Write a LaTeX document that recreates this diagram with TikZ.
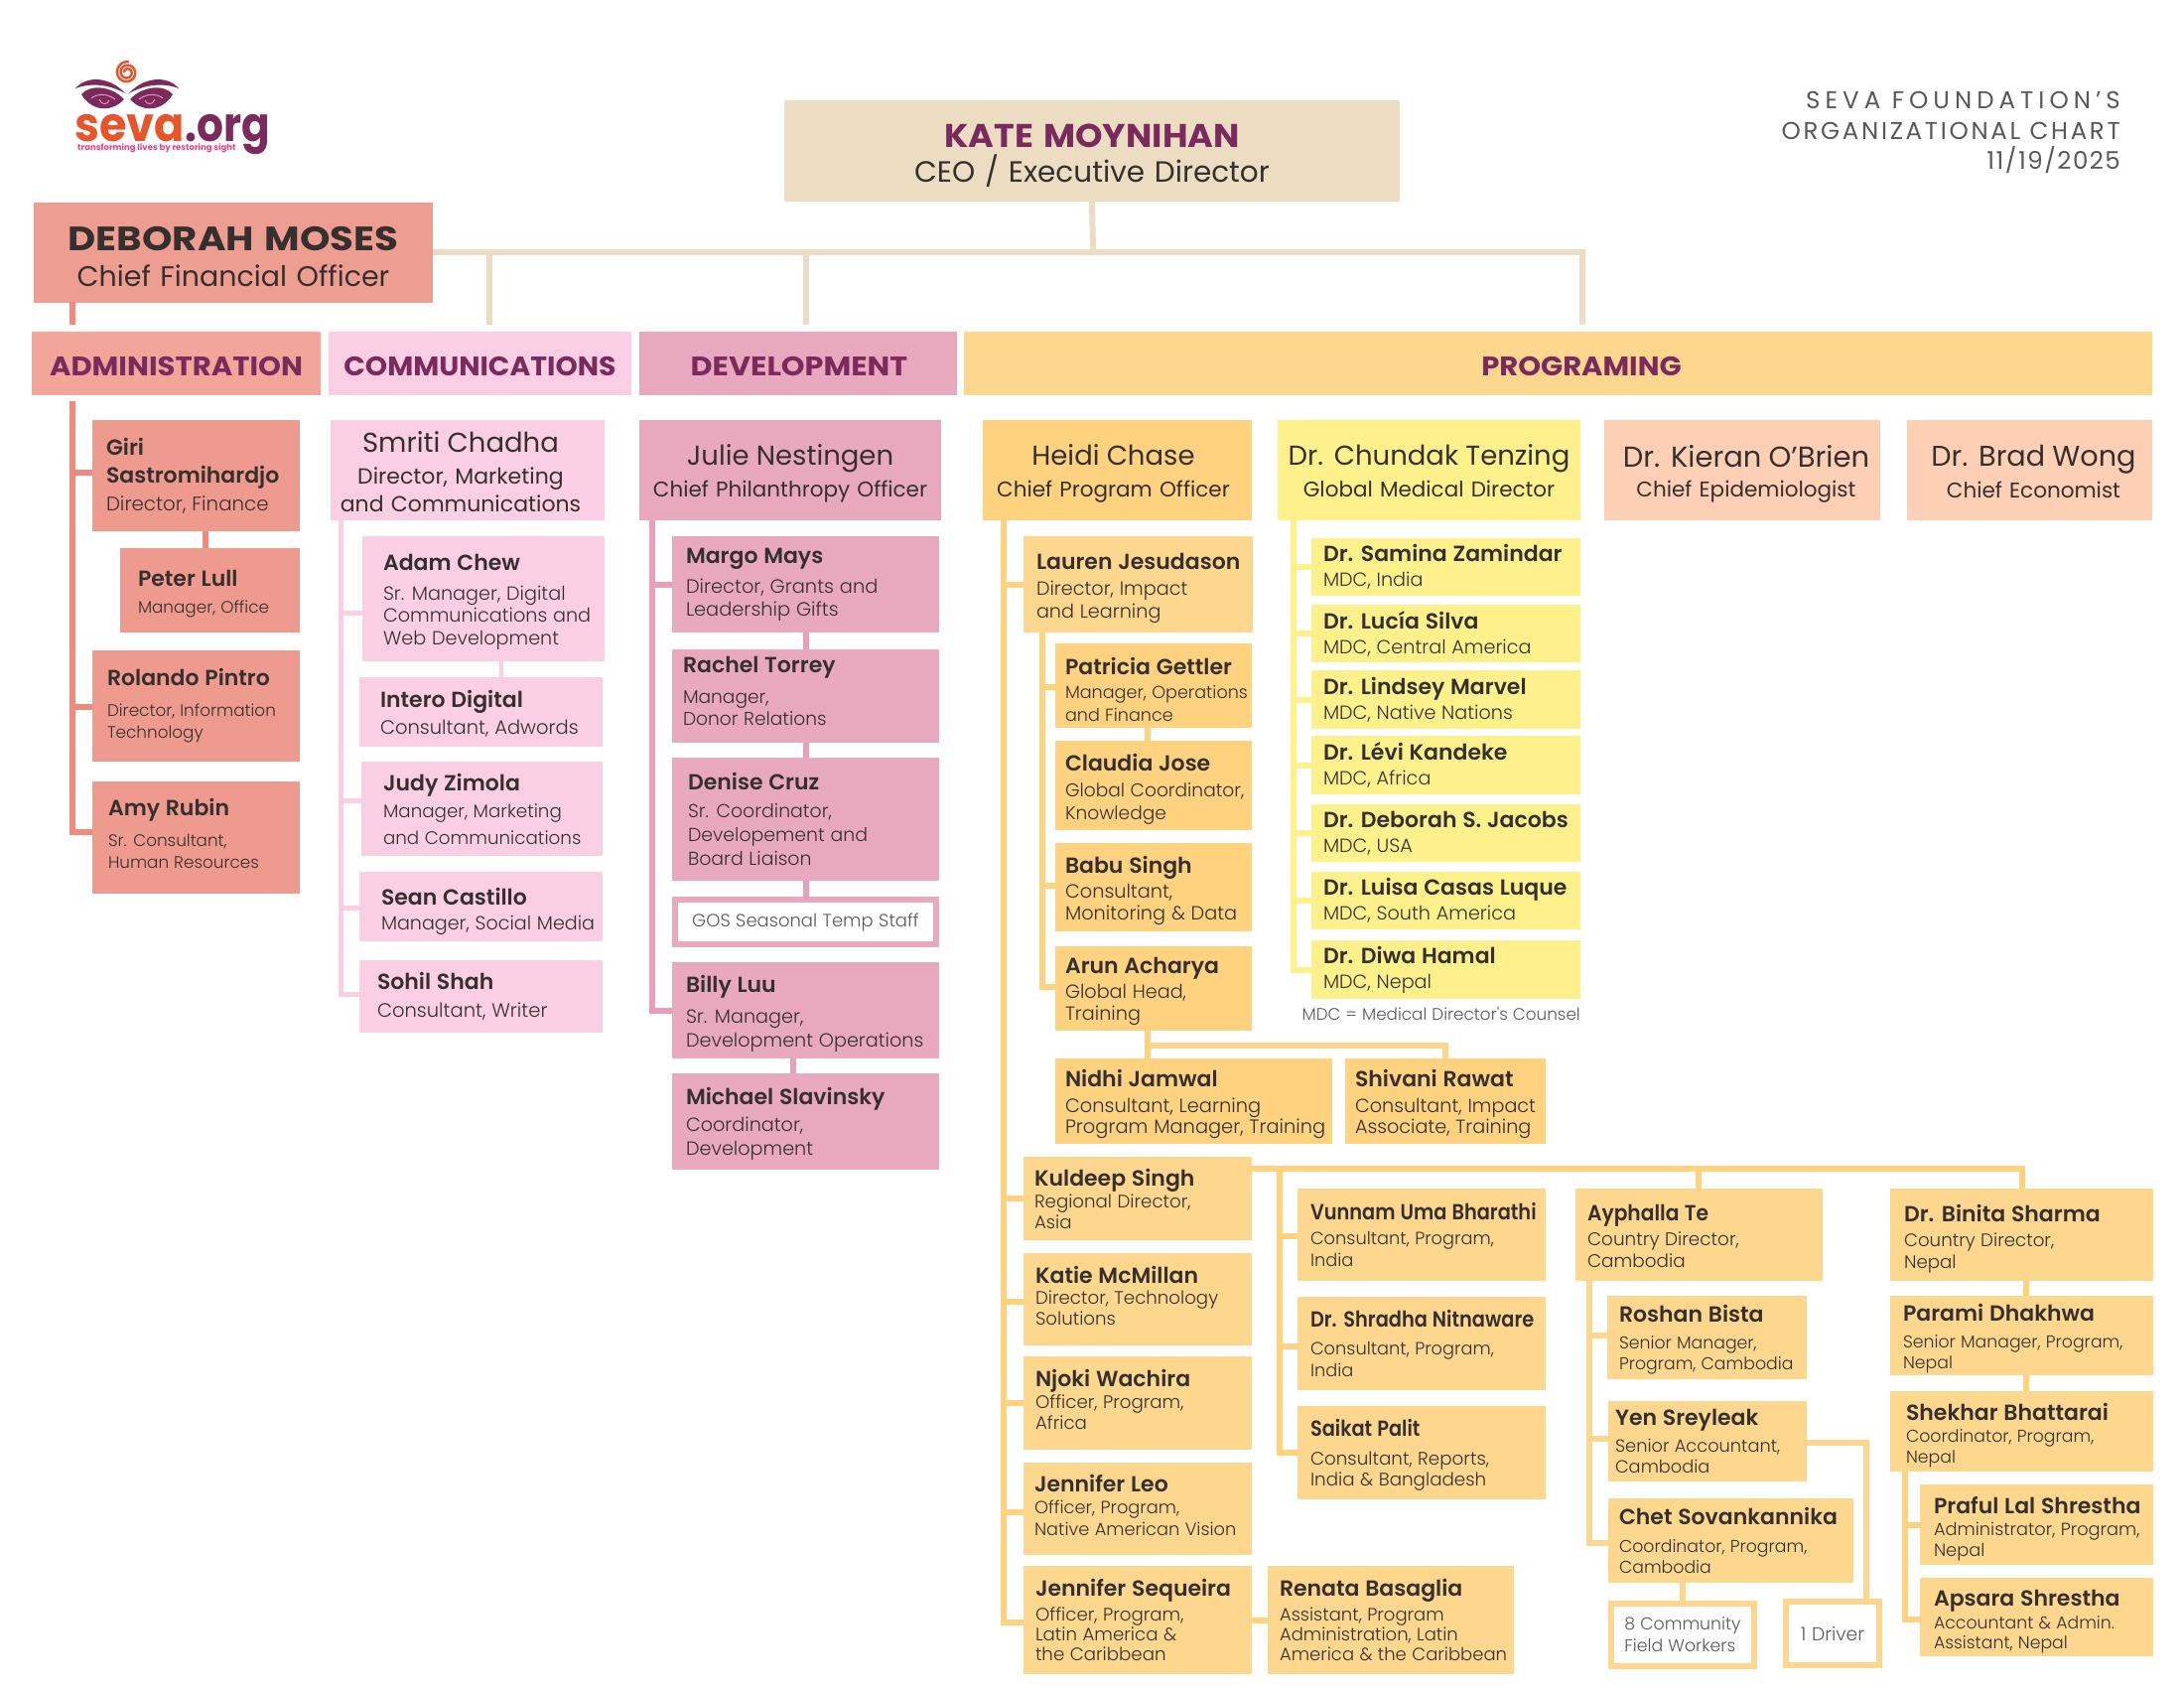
\documentclass[tikz,border=0pt]{standalone}
\usepackage{fontspec}
\setmainfont{Poppins}
\newfontfamily\rolefont[WordSpace=1.1]{Poppins Light}
\newfontfamily\namefont[WordSpace=1.1]{Poppins SemiBold}
\usetikzlibrary{calc}

\definecolor{katefill}{HTML}{EBDCC2}
\definecolor{cfofill}{HTML}{EE9E90}
\definecolor{adminfill}{HTML}{F2A699}
\definecolor{stafffill}{HTML}{EE9A8E}
\definecolor{adminline}{HTML}{EF8A7C}
\definecolor{commfill}{HTML}{FBCFE3}
\definecolor{devfill}{HTML}{E8A9BE}
\definecolor{devline}{HTML}{E89FBE}
\definecolor{progfill}{HTML}{FDD78D}
\definecolor{heidifill}{HTML}{FED27F}
\definecolor{chundakfill}{HTML}{FEF18C}
\definecolor{epifill}{HTML}{FDD0B6}
\definecolor{headtext}{HTML}{7B2A5E}
\definecolor{inktext}{HTML}{35302F}
\definecolor{greytext}{HTML}{58585A}
\definecolor{sevaorange}{HTML}{E8552A}
\definecolor{sevapink}{HTML}{E8408A}

\tikzset{
 x=1pt, y=-1pt,
 box/.style={anchor=north west, rectangle, inner sep=0pt, outer sep=0pt, align=left, text=inktext},
 bigbox/.style={box, align=center, minimum height=101, font=\fontsize{21.5}{32}\selectfont},
 head/.style={anchor=center, rectangle, inner sep=0pt, outer sep=0pt, fill=#1, text=headtext, text height=25pt, text depth=0pt, font=\fontsize{27}{30}\selectfont\bfseries},
 tie/.style={line width=6pt, draw=#1},
}

% id, fill, x0, y0, x1, y1, inset, text
\newcommand{\staff}[8]{%
 \node[box, fill=#2, minimum width=#5-#3, minimum height=#6-#4, text width=#5-#3] (#1) at (#3,#4) {\leftskip=#7pt\relax\hyphenpenalty=10000\relax #8\par};%
}
\newcommand{\rs}[2]{\fontsize{#1}{#2}\rolefont\spaceskip=0pt\xspaceskip=0pt\relax}
\newcommand{\who}[2][3]{{\fontsize{22}{26}\namefont #2}\\[#1pt]}
\newcommand{\bigname}[1]{{\fontsize{27.5}{32}\selectfont #1}}
\newcommand{\ctr}[1]{\leftskip=#1pt plus 1fil\relax\rightskip=0pt plus 1fil\relax\parfillskip=0pt\relax}
% nudge the text of a box down or up
\newcommand{\txtdn}[1]{\rule{0pt}{\dimexpr 17pt+2\dimexpr #1pt\relax\relax}}
\newcommand{\txtup}[1]{\rule[\dimexpr -5pt-2\dimexpr #1pt\relax\relax]{0pt}{0pt}}

\begin{document}
\begin{tikzpicture}
\useasboundingbox (0,0) rectangle (2200,1700);

% logo
\foreach \f/\o in {1/0,-1/256} {
 \begin{scope}[shift={(\o,0)},xscale=\f]
 \fill[headtext] (76,89) .. controls (88,75) and (112,78) .. (126,94) .. controls (110,85) and (92,83) .. (76,89);
 \fill[headtext] (82,95) .. controls (90,85) and (112,86) .. (125,100) .. controls (112,114) and (92,112) .. (82,95);
 \draw[sevapink!60, line width=1pt] (92,99) .. controls (98,94) and (108,94) .. (116,100) (100,100) .. controls (102,106) and (108,106) .. (110,101);
 \end{scope}
}
\draw[sevaorange, line width=2.5pt] plot[domain=180:1000, samples=70] ({128+(1+\x/100)*cos(\x)},{73+(1+\x/100)*sin(\x)});
\node[inner sep=0, anchor=base west, text=sevaorange, font=\fontsize{48}{50}\selectfont\bfseries] (logoa) at (75,142) {\scalebox{.93}[1]{seva}};
\node[inner sep=0, anchor=base west, text=headtext, font=\fontsize{48}{50}\selectfont\bfseries] (logob) at (logoa.base east) {\scalebox{.88}[1]{.org}};
\node[inner sep=0, anchor=base west, text=sevapink, font=\fontsize{8.5}{9}\selectfont\bfseries] (logoc) at (78,151) {transforming lives by restoring sight};

% title
\node[anchor=north east, inner sep=0, align=right, text=greytext, font=\fontsize{24.5}{30}\selectfont] (title) at (2136,92.5) {{\addfontfeatures{LetterSpace=20.5}SEVA FOUNDATION’S}\\{\addfontfeatures{LetterSpace=11}ORGANIZATIONAL CHART}\\{\addfontfeatures{LetterSpace=6}11/19/2025}};

% top boxes
\node[box, anchor=center, align=center, fill=katefill, minimum width=620, text width=620, minimum height=102, font=\fontsize{29.5}{35}\selectfont] (kate) at (1100,152) {\rule{0pt}{33pt}{\fontsize{33}{36}\selectfont\bfseries\color{headtext}\scalebox{1.06}[1]{KATE MOYNIHAN}}\\CEO / Executive Director};
\node[box, anchor=center, align=center, fill=cfofill, minimum width=402, text width=402, minimum height=101, font=\fontsize{28.5}{36}\selectfont] (deborah) at (235,254) {\rule{0pt}{33pt}{\fontsize{34}{36}\selectfont\bfseries \scalebox{1.14}[1]{DEBORAH MOSES}}\\Chief Financial Officer};

% departments
\node[head=adminfill, minimum width=291, minimum height=64] (admin) at (177.5,366) {\scalebox{1.08}[1]{ADMINISTRATION}};
\node[head=commfill, minimum width=305, minimum height=64] (comm) at (483.5,366) {\scalebox{1.05}[1]{COMMUNICATIONS}};
\node[head=devfill, minimum width=320, minimum height=64] (dev) at (804,366) {\hspace*{2pt}\scalebox{1.12}[1]{DEVELOPMENT}};
\node[head=progfill, minimum width=1197, minimum height=64] (prog) at (1569.5,366) {\hspace*{47pt}\scalebox{1.075}[1]{PROGRAMING}};

% administration
\staff{giri}{stafffill}{93}{423}{302}{535}{14}{\rs{19.8}{22}\who[6]{Giri\\[6pt]Sastromihardjo}Director, Finance}
\staff{peter}{stafffill}{121}{552}{302}{637}{18}{\rs{16.8}{22}\txtdn{3.5}\who[5]{Peter Lull}Manager, Office}
\staff{rolando}{stafffill}{93}{655}{302}{767}{15}{\rs{16.8}{22.5}\who[8]{Rolando Pintro}Director, Information\\Technology}
\staff{amy}{stafffill}{93}{787}{302}{900}{16}{\rs{16.8}{22.5}\who[8]{Amy Rubin}Sr. Consultant,\\Human Resources\txtup{1.5}}

% communications
\node[bigbox, fill=commfill, minimum width=276, text width=276, font=\fontsize{22}{28}\selectfont] (smriti) at (333,423) {\ctr{-14}\rule{0pt}{24.5pt}\bigname{Smriti Chadha}\\[4pt]Director, Marketing\\and Communications\par};
\staff{adam}{commfill}{365}{540}{609}{666}{21}{\rs{19.2}{22.5}\txtdn{3}\who[7]{Adam Chew}Sr. Manager, Digital\\Communications and\\Web Development}
\staff{intero}{commfill}{362}{682}{607}{752}{21}{\rs{19.5}{24}\txtdn{2}\who[3]{Intero Digital}Consultant, Adwords}
\staff{judy}{commfill}{364}{767}{607}{862}{22}{\rs{18.3}{27}\who[0]{Judy Zimola}Manager, Marketing\\and Communications}
\staff{sean}{commfill}{362}{878}{607}{948}{22}{\rs{19.1}{25}\txtdn{5.5}\who[0]{Sean Castillo}Manager, Social Media}
\staff{sohil}{commfill}{362}{967}{607}{1040}{18}{\rs{19.5}{28}\who[0]{Sohil Shah}Consultant, Writer}

% development
\node[bigbox, fill=devfill, minimum width=304, text width=304] (julie) at (644,423) {\rule{0pt}{27.5pt}\bigname{Julie Nestingen}\\Chief Philanthropy Officer};
\staff{margo}{devfill}{677}{540}{946}{637}{14}{\rs{19.4}{22.5}\who[8]{Margo Mays}Director, Grants and\\Leadership Gifts}
\staff{rachel}{devfill}{677}{654}{946}{748}{11}{\rs{18.6}{22.5}\who[8]{Rachel Torrey}Manager,\\Donor Relations\txtup{2.5}}
\staff{denise}{devfill}{677}{763}{946}{887}{16}{\rs{18.9}{24}\who[4]{Denise Cruz}Sr. Coordinator,\\Developement and\\Board Liaison}
\node[box, anchor=center, align=center, draw=devfill, line width=6pt, fill=white, minimum width=263, minimum height=45, text=greytext, font=\fontsize{18}{22}\rolefont] (gos) at (811.5,928.5) {GOS Seasonal Temp Staff};
\staff{billy}{devfill}{677}{969}{946}{1066}{14}{\rs{19.2}{24}\txtdn{3.5}\who[7]{Billy Luu}Sr. Manager,\\Development Operations}
\staff{michael}{devfill}{677}{1081}{946}{1178}{14}{\rs{19.2}{24}\txtdn{2}\who[3]{Michael Slavinsky}Coordinator,\\Development}

% programing, first row
\node[bigbox, fill=heidifill, minimum width=271, text width=271] (heidi) at (990,423) {\ctr{-8}\rule{0pt}{27.5pt}\bigname{Heidi Chase}\\Chief Program Officer\par};
\node[bigbox, fill=chundakfill, minimum width=305, text width=305] (chundak) at (1287,423) {\rule{0pt}{22pt}\bigname{Dr. Chundak Tenzing}\\Global Medical Director};
\node[bigbox, fill=epifill, minimum width=278, text width=278] (kieran) at (1616,423) {\ctr{8}\rule{0pt}{29pt}{\fontsize{29}{32}\selectfont Dr. Kieran O'Brien}\\[-2pt]Chief Epidemiologist\par};
\node[bigbox, fill=epifill, minimum width=247, text width=247] (brad) at (1921,423) {\ctr{8}\rule{0pt}{24pt}{\fontsize{28.7}{32}\selectfont Dr. Brad Wong}\\Chief Economist\par};

% heidi's people
\staff{lauren}{progfill}{1031}{540}{1262}{637}{13}{\rs{19.2}{22.5}\txtdn{3.5}\who[4]{Lauren Jesudason}Director, Impact\\and Learning}
\staff{patricia}{heidifill}{1063}{648}{1261}{733}{10}{\rs{17.6}{22.5}\txtdn{4}\who[2]{Patricia Gettler}\mbox{Manager, Operations}\\and Finance}
\staff{claudia}{heidifill}{1063}{746}{1261}{836}{10}{\rs{18.6}{22.5}\txtdn{3.5}\who[4]{Claudia Jose}Global Coordinator,\\Knowledge}
\staff{babu}{heidifill}{1063}{849}{1261}{938}{10}{\rs{19.3}{22.5}\txtdn{4}\who[2]{Babu Singh}Consultant,\\Monitoring \& Data}
\staff{arun}{heidifill}{1063}{953}{1261}{1038}{10}{\rs{19.2}{22.5}\txtdn{3}\who[2]{Arun Acharya}Global Head,\\Training}
\staff{nidhi}{heidifill}{1063}{1066}{1342}{1152}{10}{\rs{19.4}{21}\txtdn{3}\who[5]{Nidhi Jamwal}Consultant, Learning\\Program Manager, Training}
\staff{shivani}{heidifill}{1355}{1066}{1557}{1152}{10}{\rs{19.2}{21}\txtdn{3}\who[5]{Shivani Rawat}Consultant, Impact\\Associate, Training}

% medical counsel
\staff{samina}{chundakfill}{1321}{542}{1592}{600}{12}{\rs{19.2}{25}\who[0]{Dr. Samina Zamindar}MDC, India}
\staff{lucia}{chundakfill}{1321}{609}{1592}{667}{12}{\rs{19.2}{25}\who[0]{Dr. Lucía Silva}MDC, Central America}
\staff{lindsey}{chundakfill}{1321}{675}{1592}{734}{12}{\rs{19.2}{25}\who[0]{Dr. Lindsey Marvel}MDC, Native Nations}
\staff{levi}{chundakfill}{1321}{741}{1592}{800}{12}{\rs{19.2}{25}\who[0]{Dr. Lévi Kandeke}MDC, Africa}
\staff{jacobs}{chundakfill}{1321}{810}{1592}{868}{12}{\rs{19.2}{25}\who[0]{Dr. Deborah S. Jacobs}MDC, USA}
\staff{luisa}{chundakfill}{1321}{878}{1592}{936}{12}{\rs{19.2}{25}\who[0]{Dr. Luisa Casas Luque}MDC, South America}
\staff{diwa}{chundakfill}{1321}{947}{1592}{1006}{12}{\rs{19.2}{25}\who[0]{Dr. Diwa Hamal}MDC, Nepal}
\node[anchor=east, inner sep=0, text=greytext, font=\fontsize{16.8}{18}\rolefont] (mdcnote) at (1592,1021) {MDC = Medical Director's Counsel};

% regional column
\staff{kuldeep}{progfill}{1031}{1165}{1261}{1249}{11}{\rs{18.2}{21}\who[1]{Kuldeep Singh}Regional Director,\\Asia}
\staff{katie}{progfill}{1031}{1262}{1261}{1355}{12}{\rs{18.2}{21}\who[0]{Katie McMillan}Director, Technology\\Solutions\txtup{1.5}}
\staff{njoki}{progfill}{1031}{1366}{1261}{1460}{12}{\rs{18.2}{21}\who[1]{Njoki Wachira}Officer, Program,\\Africa\txtup{1}}
\staff{leo}{progfill}{1031}{1473}{1261}{1566}{11}{\rs{17.8}{22}\who[0]{Jennifer Leo}Officer, Program,\\Native American Vision\txtup{1.5}}
\staff{sequeira}{progfill}{1031}{1577}{1261}{1686}{12}{\rs{18.2}{20}\who[5]{Jennifer Sequeira}Officer, Program,\\Latin America \&\\the Caribbean}
\staff{renata}{progfill}{1277}{1577}{1525}{1686}{12}{\rs{18}{20}\who[5]{Renata Basaglia}Assistant, Program\\Administration, Latin\\America \& the Caribbean}

% india
\staff{vunnam}{progfill}{1307}{1197}{1557}{1290}{13}{\rs{17.8}{22}\who[3]{\scalebox{.88}[1]{Vunnam Uma Bharathi}}Consultant, Program,\\India}
\staff{shradha}{progfill}{1307}{1306}{1557}{1400}{13}{\rs{17.8}{22}\who[6]{\scalebox{.88}[1]{Dr. Shradha Nitnaware}}Consultant, Program,\\India}
\staff{saikat}{progfill}{1307}{1416}{1557}{1510}{13}{\rs{18.3}{21}\txtdn{2}\who[8]{\scalebox{.88}[1]{Saikat Palit}}Consultant, Reports,\\India \& Bangladesh}

% cambodia
\staff{ayphalla}{progfill}{1587}{1197}{1836}{1290}{12}{\rs{18.4}{22}\txtdn{1.5}\who[3]{\scalebox{.92}[1]{Ayphalla Te}}Country Director,\\Cambodia}
\staff{roshan}{progfill}{1619}{1305}{1820}{1389}{12}{\rs{17.3}{21}\txtdn{2}\who[6]{Roshan Bista}Senior Manager,\\Program, Cambodia}
\staff{yen}{progfill}{1620}{1411}{1820}{1492}{7}{\rs{17.8}{21}\who[6]{Yen Sreyleak}Senior Accountant,\\Cambodia}
\staff{chet}{progfill}{1620}{1509}{1867}{1594}{11}{\rs{17.3}{21}\who[7]{Chet Sovankannika}Coordinator, Program,\\Cambodia}
\node[box, anchor=center, align=left, draw=progfill, line width=6pt, fill=white, minimum width=144, minimum height=63, text=greytext, font=\fontsize{17.3}{22}\rolefont] (field) at (1695,1646.5) {8 Community\\Field Workers};
\node[box, anchor=center, align=center, draw=progfill, line width=6pt, fill=white, minimum width=94, minimum height=64, text=greytext, font=\fontsize{18.8}{22}\rolefont] (driver) at (1846,1645) {1 Driver};

% nepal
\staff{binita}{progfill}{1904}{1197}{2169}{1290}{14}{\rs{18.2}{22}\txtdn{4}\who[3]{Dr. Binita Sharma}Country Director,\\Nepal}
\staff{parami}{progfill}{1904}{1305}{2169}{1385}{13}{\rs{17.3}{21}\txtdn{3.5}\who[6]{Parami Dhakhwa}Senior Manager, Program,\\Nepal}
\staff{shekhar}{progfill}{1904}{1401}{2169}{1482}{16}{\rs{17.3}{21}\txtdn{4}\who[1]{Shekhar Bhattarai}Coordinator, Program,\\Nepal}
\staff{praful}{progfill}{1934}{1495}{2169}{1576}{14}{\rs{17.8}{21}\txtdn{4}\who[1]{Praful Lal Shrestha}Administrator, Program,\\Nepal}
\staff{apsara}{progfill}{1934}{1589}{2169}{1668}{14}{\rs{17.3}{20}\txtdn{4}\who[3]{Apsara Shrestha}Accountant \& Admin.\\Assistant, Nepal}

% ties from the top
\coordinate (topbar) at (1101,254);
\draw[tie=katefill] (kate.south) -- (topbar);
\draw[tie=katefill] (deborah.east |- topbar) -- (1594,254) -- (1594,327);
\foreach \x in {493,812} {
 \draw[tie=katefill] (\x,254) -- (\x,327);
}
\draw[tie=adminline] (73,304) -- (73,327);

% administration ties
\coordinate (admintop) at (73,404);
\foreach \n/\d in {giri/3,rolando/-1,amy/6} {
 \draw[tie=adminline] (admintop) |- ([yshift=\d]\n.west);
}
\draw[tie=adminline] (peter.north) ++(-5,0) -- +(0,-17);

% communications ties
\coordinate (commtop) at ([xshift=10]smriti.south west);
\foreach \n/\d in {adam/-14,judy/8,sean/-1,sohil/2.5} {
 \draw[tie=commfill, line width=5pt] (commtop) |- ([yshift=\d]\n.west);
}
\draw[tie=commfill, line width=4pt] (intero.north) ++(20,0) -- +(0,-16);

% development ties
\coordinate (devtop) at ([xshift=13]julie.south west);
\foreach \n/\d in {margo/0,billy/0} {
 \draw[tie=devline] (devtop) |- ([yshift=\d]\n.west);
}
\draw[tie=devline] (margo.south) -- (rachel.north);
\draw[tie=devline] (rachel.south) -- (denise.north);
\draw[tie=devline] (denise.south) -- (gos.north);
\draw[tie=devline] ([xshift=-13]billy.south) -- ([xshift=-13]michael.north);

% heidi ties
\coordinate (heiditop) at ([xshift=21]heidi.south west);
\foreach \n/\d in {lauren/0,kuldeep/0,katie/-2,njoki/0,leo/-3,sequeira/-2} {
 \draw[tie=heidifill] (heiditop) |- ([yshift=\d]\n.west);
}
\coordinate (laurentop) at ([xshift=19]lauren.south west);
\foreach \n/\d in {patricia/-1.5,babu/2,arun/1.5} {
 \draw[tie=heidifill] (laurentop) |- ([yshift=\d]\n.west);
}
\draw[tie=heidifill] (patricia.south -| 1156,0) -- (claudia.north -| 1156,0);
\draw[tie=heidifill] (arun.south -| 1156,0) -- (nidhi.north -| 1156,0);
\coordinate (trainbar) at (1156,1053);
\draw[tie=progfill] (trainbar) -| (shivani.north);
\draw[tie=heidifill] (sequeira.east) -- (renata.west);

% medical ties
\coordinate (chundaktop) at ([xshift=16]chundak.south west);
\foreach \n in {samina,lucia,lindsey,levi,jacobs,luisa,diwa} {
 \draw[tie=chundakfill] (chundaktop) |- (\n.west);
}

% regional ties
\coordinate (regionbar) at (1289,1177);
\draw[tie=heidifill] (kuldeep.east |- regionbar) -- (binita.north |- regionbar) -- (binita.north);
\draw[tie=heidifill] (ayphalla.north |- regionbar) ++(-0.5,0) -- (1711,1197);
\foreach \n/\d in {vunnam/-1.5,shradha/-3,saikat/0} {
 \draw[tie=heidifill] (regionbar) |- ([yshift=\d]\n.west);
}

% cambodia ties
\coordinate (ayphallatop) at ([xshift=14]ayphalla.south west);
\foreach \n/\d in {roshan/2,yen/2.5,chet/-2.5} {
 \draw[tie=progfill] (ayphallatop) |- ([yshift=\d]\n.west);
}
\draw[tie=progfill] ([yshift=-1.5]yen.east) -| ([xshift=34]driver.north);
\draw[tie=progfill] (chet.south -| field.north) -- (field.north);

% nepal ties
\draw[tie=heidifill] (binita.south) ++(4.5,0) -- +(0,15);
\draw[tie=heidifill] (parami.south) ++(4.5,0) -- +(0,16);
\coordinate (shekhartop) at ([xshift=15]shekhar.south west);
\foreach \n/\d in {praful/0,apsara/-2.5} {
 \draw[tie=heidifill] (shekhartop) |- ([yshift=\d]\n.west);
}
\end{tikzpicture}
\end{document}
